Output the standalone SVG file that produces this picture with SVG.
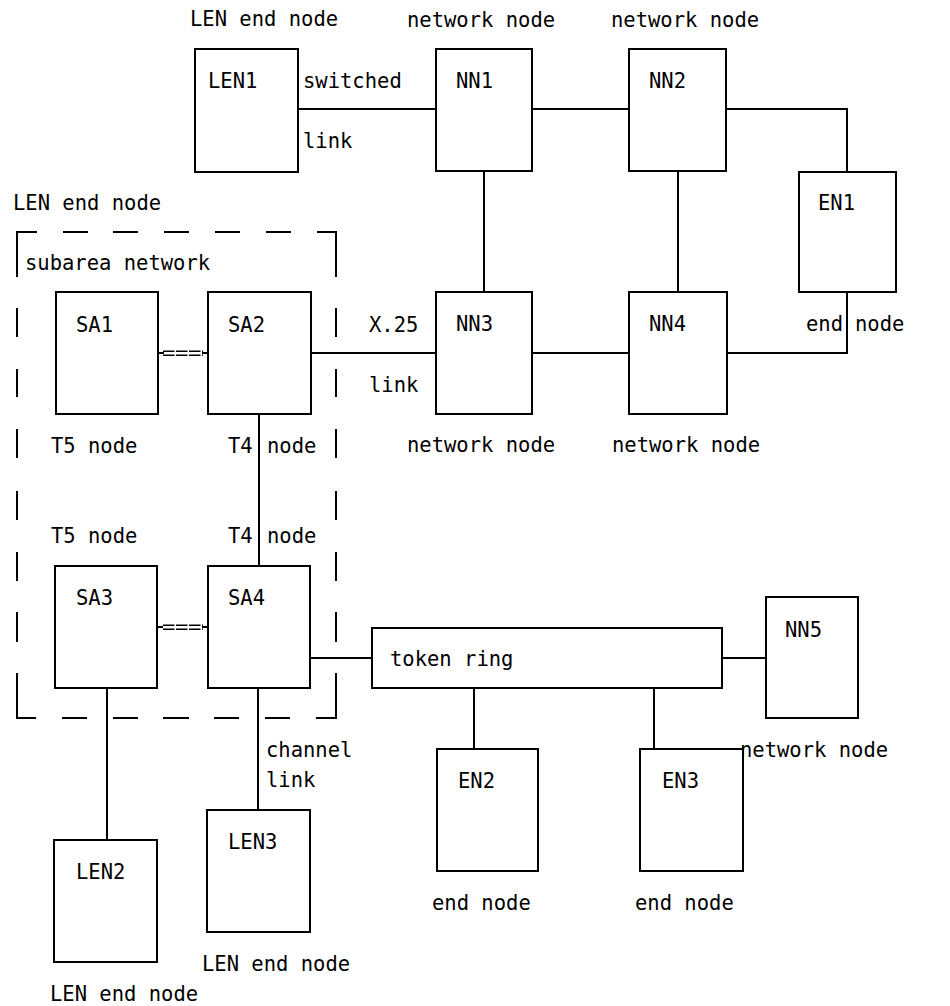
<svg xmlns="http://www.w3.org/2000/svg" width="950" height="1006" viewBox="0 0 950 1006">
<style>
.box{fill:#fff;stroke:#000;stroke-width:2}
.ln{fill:none;stroke:#000;stroke-width:2}
.dl{fill:none;stroke:#000;stroke-width:1.6}
text{font-family:"DejaVu Sans Mono","Liberation Mono",monospace;font-size:20.5px;fill:#000}
</style>
<rect width="950" height="1006" fill="#fff"/>
<g id="connectors">
<path class="ln" d="M298 109H436"/>
<path class="ln" d="M532 109H629"/>
<path class="ln" d="M726 109H847V172"/>
<path class="ln" d="M484 171V292"/>
<path class="ln" d="M678 171V292"/>
<path class="ln" d="M532 353H629"/>
<path class="ln" d="M727 353H847V292"/>
<path class="ln" d="M311 353H436"/>
<path class="ln" d="M259 414V566"/>
<path class="ln" d="M310 658H372"/>
<path class="ln" d="M722 658H766"/>
<path class="ln" d="M474 688V749"/>
<path class="ln" d="M654 688V749"/>
<path class="ln" d="M107 688V840"/>
<path class="ln" d="M258 688V810"/>
<g id="sa1-sa2">
<path class="ln" d="M158 353H164M202 353H208"/>
<path class="dl" stroke-dasharray="11.5 1.5" d="M163 351.3H203M163 355.3H203"/>
</g>
<g id="sa3-sa4">
<path class="ln" d="M157 627H163M202 627H208"/>
<path class="dl" stroke-dasharray="11.5 1.5" d="M163 625.3H203M163 629.3H203"/>
</g>
</g>
<g id="subarea">
<path class="ln" d="M17 277V232H37M63 232H88M113 232H138M164 232H189M215 232H240M266 232H291M317 232H336V277M17 308V337M17 369V397M17 429V458M17 491V520M17 552V581M17 612V642M17 673V718H36M62 718H87M113 718H138M163 718H189M214 718H239M265 718H290M316 718H336V673M336 308V337M336 369V397M336 429V458M336 491V520M336 552V581M336 612V642"/>
<text x="25" y="270">subarea network</text>
</g>
<g id="LEN1"><rect class="box" x="195" y="49" width="103" height="123"/><text x="208" y="88">LEN1</text><text x="190" y="26">LEN end node</text></g>
<g id="NN1"><rect class="box" x="436" y="49" width="96" height="122"/><text x="456" y="88">NN1</text><text x="407" y="27">network node</text></g>
<g id="NN2"><rect class="box" x="629" y="49" width="97" height="122"/><text x="649" y="88">NN2</text><text x="611" y="27">network node</text></g>
<g id="EN1"><rect class="box" x="799" y="172" width="97" height="120"/><text x="818" y="210">EN1</text><text x="806" y="331">end</text><text x="855" y="331">node</text></g>
<g id="NN3"><rect class="box" x="436" y="292" width="96" height="122"/><text x="456" y="331">NN3</text><text x="407" y="452">network node</text></g>
<g id="NN4"><rect class="box" x="629" y="292" width="98" height="122"/><text x="649" y="331">NN4</text><text x="612" y="452">network node</text></g>
<g id="SA1"><rect class="box" x="56" y="292" width="102" height="122"/><text x="76" y="332">SA1</text><text x="51" y="453">T5 node</text></g>
<g id="SA2"><rect class="box" x="208" y="292" width="103" height="122"/><text x="228" y="332">SA2</text><text x="228" y="453">T4</text><text x="267" y="453">node</text></g>
<g id="SA3"><rect class="box" x="55" y="566" width="102" height="122"/><text x="76" y="605">SA3</text><text x="51" y="543">T5 node</text></g>
<g id="SA4"><rect class="box" x="208" y="566" width="102" height="122"/><text x="228" y="605">SA4</text><text x="228" y="543">T4</text><text x="267" y="543">node</text></g>
<g id="tokenring"><rect class="box" x="372" y="628" width="350" height="60"/><text x="390" y="666">token ring</text></g>
<g id="NN5"><rect class="box" x="766" y="597" width="92" height="121"/><text x="785" y="637">NN5</text><text x="740" y="757">network node</text></g>
<g id="EN2"><rect class="box" x="437" y="749" width="101" height="122"/><text x="458" y="788">EN2</text><text x="432" y="910">end node</text></g>
<g id="EN3"><rect class="box" x="640" y="749" width="103" height="122"/><text x="662" y="788">EN3</text><text x="635" y="910">end node</text></g>
<g id="LEN2"><rect class="box" x="54" y="840" width="103" height="122"/><text x="76" y="879">LEN2</text><text x="50" y="1001">LEN end node</text></g>
<g id="LEN3"><rect class="box" x="207" y="810" width="103" height="122"/><text x="228" y="849">LEN3</text><text x="202" y="971">LEN end node</text></g>
<g id="labels">
<text x="13" y="210">LEN end node</text>
<text x="303" y="88">switched</text>
<text x="303" y="148">link</text>
<text x="369" y="332">X.25</text>
<text x="369" y="392">link</text>
<text x="266" y="757">channel</text>
<text x="266" y="787">link</text>
</g>
</svg>
